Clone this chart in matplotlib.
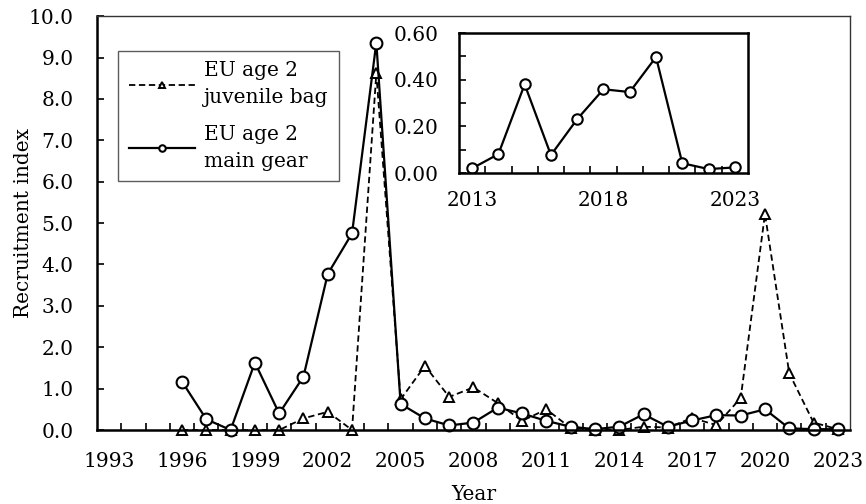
import numpy as np
import matplotlib
matplotlib.use("Agg")
import matplotlib.pyplot as plt
from matplotlib.ticker import MultipleLocator, FixedLocator

# data
years = list(range(1996, 2024))
main_gear = [1.17, 0.26, 0.00, 1.63, 0.40, 1.29, 3.77, 4.75, 9.36, 0.63,
             0.28, 0.11, 0.18, 0.54, 0.40, 0.22, 0.08, 0.02, 0.08, 0.38,
             0.08, 0.23, 0.36, 0.35, 0.50, 0.04, 0.02, 0.02]
juvenile_bag = [0.00, 0.00, 0.00, 0.00, 0.00, 0.28, 0.44, 0.00, 8.62, 0.74,
                1.55, 0.80, 1.03, 0.65, 0.22, 0.50, 0.05, 0.00, 0.00, 0.08,
                0.06, 0.29, 0.12, 0.77, 5.22, 1.37, 0.18, 0.02]
inset_years = list(range(2013, 2024))
inset_gear = [0.020, 0.081, 0.380, 0.077, 0.231, 0.359, 0.347, 0.497, 0.042, 0.017, 0.024]
year_labels = list(range(1993, 2024, 3))
inset_labels = [2013, 2018, 2023]

plt.rcParams['font.family'] = ['DejaVu Serif']
FS = 14.5

fig = plt.figure(figsize=(8.66, 5.04), dpi=100)
ax = fig.add_axes([0.112, 0.1468, 0.8695, 0.8212])

ax.plot(years, juvenile_bag, color='black', lw=1.3, ls=(0, (3.5, 2)),
        marker='^', ms=7, mfc='white', mec='black', mew=1.4, clip_on=False,
        label='EU age 2\njuvenile bag')
ax.plot(years, main_gear, color='black', lw=1.6, ls='-',
        marker='o', ms=8.5, mfc='white', mec='black', mew=1.5, clip_on=False,
        label='EU age 2\nmain gear')

ax.set_xlim(1992.5, 2023.5)
ax.set_ylim(0, 10)
ax.set_xticks(year_labels)
ax.set_xticklabels([str(y) for y in year_labels])
ax.xaxis.set_minor_locator(FixedLocator(np.arange(1993.5, 2023.0, 1.0)))
ax.set_yticks(np.arange(0, 10.01, 1.0))
ax.set_yticklabels([f'{v:.1f}' for v in np.arange(0, 10.01, 1.0)])
ax.tick_params(axis='x', which='major', length=0, pad=16, labelsize=FS)
ax.tick_params(axis='x', which='minor', direction='in', length=5, width=1.2)
ax.tick_params(axis='y', which='major', direction='in', length=5, width=1.2,
               pad=17, labelsize=FS)
for s in ['left', 'bottom']:
    ax.spines[s].set_linewidth(1.8)
for s in ['top', 'right']:
    ax.spines[s].set_linewidth(1.0)
    ax.spines[s].set_color('#333333')

ax.set_xlabel('Year', fontsize=FS, labelpad=10)
ax.set_ylabel('Recruitment index', fontsize=FS, labelpad=-3)

leg = ax.legend(loc='upper left', bbox_to_anchor=(0.0285, 0.915), fontsize=FS,
                frameon=True, fancybox=False, markerscale=0.55,
                handlelength=3.3, handletextpad=0.45, labelspacing=0.9,
                borderpad=0.5, borderaxespad=0)
for t in leg.get_texts():
    t.set_linespacing(1.5)
leg.get_frame().set_edgecolor('#333333')
leg.get_frame().set_linewidth(1.0)

# inset with the recent years
axi = fig.add_axes([0.530, 0.6567, 0.3337, 0.2778])
axi.plot(inset_years, inset_gear, color='black', lw=1.6,
         marker='o', ms=7.5, mfc='white', mec='black', mew=1.5)
axi.set_xlim(2012.5, 2023.5)
axi.set_ylim(0, 0.6)
axi.set_xticks(inset_labels)
axi.set_xticklabels([str(y) for y in inset_labels])
axi.xaxis.set_minor_locator(FixedLocator(np.arange(2013.5, 2023.0, 1.0)))
axi.set_yticks([0.0, 0.2, 0.4, 0.6])
axi.set_yticklabels(['0.00', '0.20', '0.40', '0.60'])
axi.yaxis.set_minor_locator(MultipleLocator(0.1))
axi.tick_params(axis='x', which='major', length=0, pad=13, labelsize=FS)
axi.tick_params(axis='x', which='minor', direction='in', length=5, width=1.2)
axi.tick_params(axis='y', which='major', direction='in', length=5, width=1.2,
                pad=15, labelsize=FS)
axi.tick_params(axis='y', which='minor', direction='in', length=5, width=1.2)
for s in axi.spines.values():
    s.set_linewidth(1.8)

fig.savefig('out.png', dpi=100)
